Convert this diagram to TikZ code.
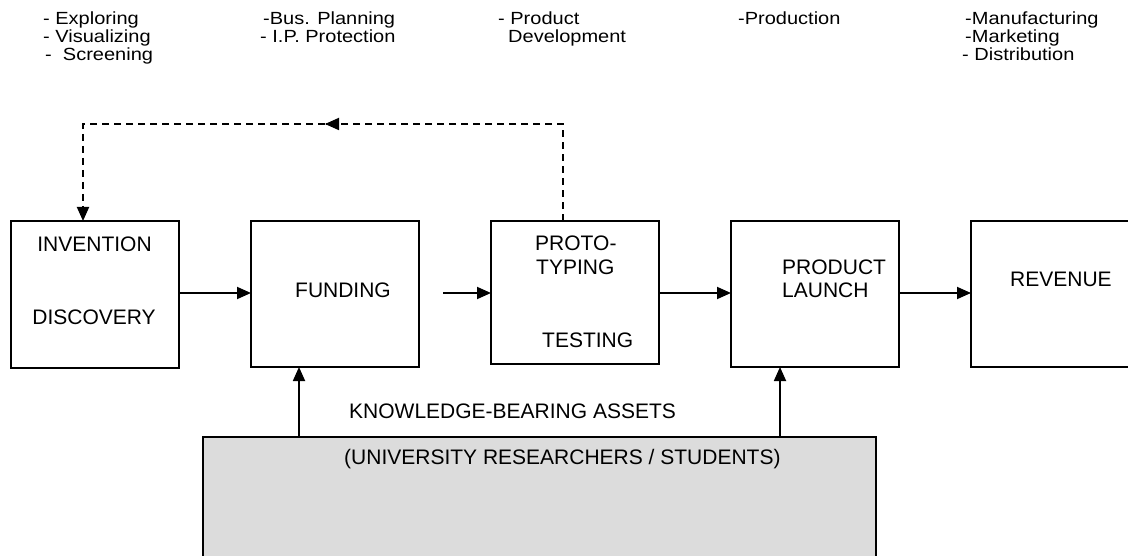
\documentclass[tikz,border=0pt]{standalone}
\usepackage{graphicx}
\usepackage{fontspec}
\setmainfont{Liberation Sans}
\usetikzlibrary{arrows.meta,calc}
\definecolor{lgray}{HTML}{DCDCDC}
\newcommand{\vsq}[1]{\scalebox{1}[0.88]{#1}}
\begin{document}
\begin{tikzpicture}[x=1pt,y=-1pt,
  box/.style={draw,line width=1.8pt,inner sep=0pt,outer sep=0pt,anchor=north west},
  lbl/.style={inner sep=0pt,anchor=base west,font=\fontsize{21}{24}\selectfont},
  clbl/.style={inner sep=0pt,anchor=base,font=\fontsize{21}{24}\selectfont},
  toptxt/.style={inner sep=0pt,anchor=base west,font=\fontsize{20}{17}\selectfont},
  arr/.style={line width=1.8pt,-{Triangle[length=14pt,width=12pt]}},
  fb/.style={line width=1.8pt,dash pattern=on 7pt off 5pt},
  plain/.style={line width=1.8pt}
]
\path[use as bounding box,clip] (0,0) rectangle (1128,556);
\fill[white] (0,0) rectangle (1128,556);

% top lists
\node[toptxt] (t11) at (43,25) {\vsq{- Exploring}};
\node[toptxt] (t12) at (43,43) {\vsq{- Visualizing}};
\node[toptxt] (t13) at (45,61) {\vsq{-~~Screening}};
\node[toptxt] (t21) at (263,25) {\vsq{-Bus. Planning}};
\node[toptxt] (t22) at (260,43) {\vsq{- I.P. Protection}};
\node[toptxt] (t31) at (498,25) {\vsq{- Product}};
\node[toptxt] (t32) at (508,43) {\vsq{Development}};
\node[toptxt] (t41) at (738,25) {\vsq{-Production}};
\node[toptxt] (t51) at (965,25) {\vsq{-Manufacturing}};
\node[toptxt] (t52) at (965,43) {\vsq{-Marketing}};
\node[toptxt] (t53) at (962,61) {\vsq{- Distribution}};

% boxes
\node[box,minimum width=168pt,minimum height=147pt] (inv) at (11,221) {};
\node[box,minimum width=168pt,minimum height=146pt] (fund) at (251,221) {};
\node[box,minimum width=168pt,minimum height=143pt] (proto) at (491,221) {};
\node[box,minimum width=168pt,minimum height=146pt] (launch) at (731,221) {};
\node[box,minimum width=190pt,minimum height=146pt] (rev) at (971,221) {};
\node[box,fill=lgray,minimum width=673pt,minimum height=150pt] (univ) at (203,437) {};

% box texts
\node[clbl] (tinv) at (94.5,252) {INVENTION};
\node[clbl] (tdis) at (94,324) {DISCOVERY};
\node[clbl] (tfund) at (343,298) {FUNDING};
\node[lbl] (tproto) at (535,251) {PROTO-};
\node[lbl] (ttyp) at (536,275) {TYPING};
\node[lbl] (ttest) at (542,348) {TESTING};
\node[lbl] (tprod) at (782,275) {PRODUCT};
\node[lbl] (tlaun) at (782,298) {LAUNCH};
\node[lbl] (trev) at (1010,287) {REVENUE};
\node[lbl] (tkn) at (349,418) {KNOWLEDGE-BEARING ASSETS};
\node[lbl] (tuniv) at (344,464) {(UNIVERSITY RESEARCHERS / STUDENTS)};

% horizontal arrows
\coordinate (fstart) at (443,293);
\draw[arr] (inv.east |- fstart) -- (fund.west |- fstart);
\draw[arr] (fstart) -- (proto.west |- fstart);
\draw[arr] (proto.east |- fstart) -- (launch.west |- fstart);
\draw[arr] (launch.east |- fstart) -- (rev.west |- fstart);

% upward arrows
\coordinate (ua) at (299,437);
\coordinate (ub) at (780,437);
\draw[arr] (ua) -- (fund.south -| ua);
\draw[arr] (ub) -- (launch.south -| ub);

% dashed feedback
\coordinate (dtop) at (563,221);
\coordinate (c1) at (563,124);
\coordinate (cm) at (325,124);
\coordinate (c2) at (83,124);
\draw[fb] (dtop) -- (c1) -- (cm);
\draw[line width=1.8pt,-{Triangle[length=14pt,width=12pt]}] ($(cm)+(1,0)$) -- (cm);
\draw[fb,-{Triangle[length=14pt,width=12pt]}] (cm) -- (c2) -- (inv.north -| c2);
\end{tikzpicture}
\end{document}
